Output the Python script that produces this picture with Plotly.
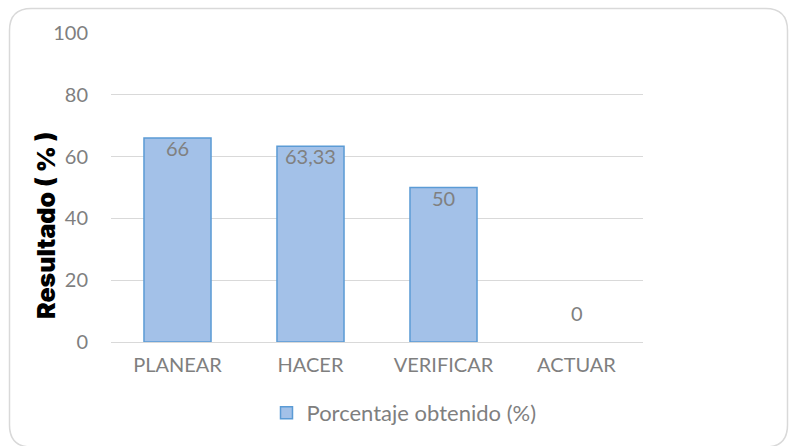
import plotly.graph_objects as go

categories = ["PLANEAR", "HACER", "VERIFICAR", "ACTUAR"]
values = [66, 63.33, 50, 0]
value_labels = ["66", "63,33", "50", "0"]
series_name = "Porcentaje obtenido (%)"
y_ticks = [0, 20, 40, 60, 80, 100]

W, H = 789, 446
L, R, T, B = 111, 146, 33, 104
PW, PH = W - L - R, H - T - B

def px(x):
    return (x - L) / PW

def py(y):
    return (H - B - y) / PH

FONT = "Lato, Open Sans, sans-serif"
GRAY = "#7f7f7f"

fig = go.Figure()
fig.add_trace(go.Bar(
    x=categories, y=values, name=series_name,
    marker=dict(color="#a3c1e8",
                line=dict(color="#5b9bd5", width=[1.5 if v > 0 else 0 for v in values])),
    showlegend=True,
))

annotations = []
for c, v, t in zip(categories, values, value_labels):
    if v > 0:
        annotations.append(dict(x=c, y=v, xref="x", yref="y", text=t, showarrow=False,
                                yanchor="top", yshift=4,
                                font=dict(family=FONT, size=20, color="#808080")))
    else:
        annotations.append(dict(x=c, y=v, xref="x", yref="y", text=t, showarrow=False,
                                yanchor="bottom", yshift=15,
                                font=dict(family=FONT, size=20, color="#808080")))

annotations.append(dict(x=px(46), y=py(225), xref="paper", yref="paper",
                        text="Resultado ( % )", textangle=-90, showarrow=False,
                        xanchor="center", yanchor="middle",
                        font=dict(family="Inter, Roboto, sans-serif", size=25,
                                  color="#000000", weight=900)))

# rounded chart border
x0, x1, y0, y1, r = px(9.5), px(787.5), py(8.5), py(447), 22
rx, ry = r / PW, r / PH
path = (f"M {x0+rx},{y0} L {x1-rx},{y0} Q {x1},{y0} {x1},{y0-ry} "
        f"L {x1},{y1+ry} Q {x1},{y1} {x1-rx},{y1} "
        f"L {x0+rx},{y1} Q {x0},{y1} {x0},{y1+ry} "
        f"L {x0},{y0-ry} Q {x0},{y0} {x0+rx},{y0} Z")

fig.update_layout(
    width=W, height=H,
    margin=dict(l=L, r=R, t=T, b=B, autoexpand=False),
    paper_bgcolor="white", plot_bgcolor="white",
    bargap=0.496,
    font=dict(family=FONT, size=19, color=GRAY),
    showlegend=True,
    legend=dict(orientation="h", x=px(404), y=py(413), xanchor="center", yanchor="middle",
                font=dict(family=FONT, size=22, color=GRAY), itemwidth=30,
                bgcolor="rgba(0,0,0,0)"),
    annotations=annotations,
    shapes=[dict(type="path", path=path, xref="paper", yref="paper",
                 line=dict(color="#d9d9d9", width=1.5), fillcolor="rgba(0,0,0,0)", layer="below")],
    xaxis=dict(showgrid=False, showline=False, ticks="", ticklabelstandoff=9,
               tickfont=dict(family=FONT, size=20, color=GRAY)),
    yaxis=dict(range=[0, 100], tickvals=y_ticks, showgrid=True, gridcolor="#d9d9d9", gridwidth=1.3,
               zeroline=True, zerolinecolor="#d9d9d9", zerolinewidth=1.3, showline=False, ticks="",
               ticklabelstandoff=22, tickfont=dict(family=FONT, size=20, color=GRAY)),
)

fig.write_html("out.html", post_script="document.body.style.margin='0';",
               config={"displayModeBar": False})
